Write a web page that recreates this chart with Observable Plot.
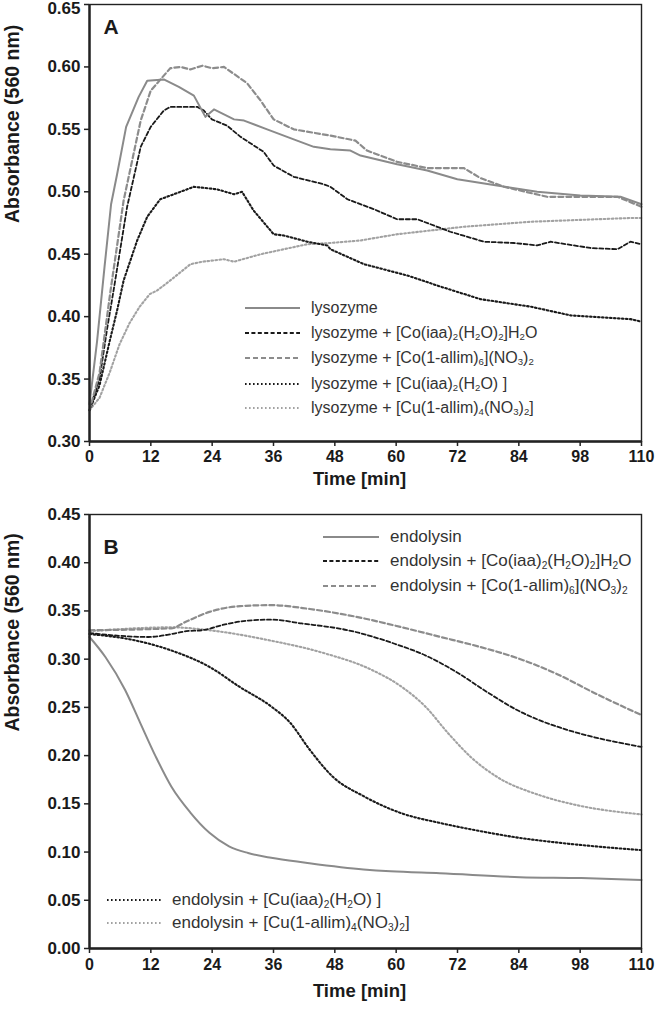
<!DOCTYPE html>
<html>
<head>
<meta charset="utf-8">
<script src="https://cdn.jsdelivr.net/npm/d3@7"></script>
<script src="https://cdn.jsdelivr.net/npm/@observablehq/plot@0.6"></script>
<style>
  body { margin: 0; background: #fff; font-family: "Liberation Sans", Arial, sans-serif; }
  .panel { position: relative; width: 663px; }
  .leg { position: absolute; height: 20px; line-height: 20px; color: #333; white-space: nowrap; display: flex; align-items: center; }
  .leg svg { flex: none; }
  .leg span { margin-left: 11px; }
  sub { font-size: 0.6em; vertical-align: -0.25em; line-height: 0; }
</style>
</head>
<body>
<div id="pA" class="panel" style="height:505px"></div>
<div id="pB" class="panel" style="height:513px"></div>
<script>
// ---------- data ----------
const xTickLabels = ["0", "12", "24", "36", "48", "60", "72", "84", "98", "110"];
const yTicksA = [0.30, 0.35, 0.40, 0.45, 0.50, 0.55, 0.60, 0.65];
const yTicksB = [0.00, 0.05, 0.10, 0.15, 0.20, 0.25, 0.30, 0.35, 0.40, 0.45];

// Panel A (time [min], absorbance)
const lysozyme = [[0,0.330],[1.5,0.380],[3,0.440],[4.3,0.490],[5.5,0.514],[7.3,0.552],[9.8,0.576],[11.5,0.589],[14.8,0.590],[17.8,0.584],[20.8,0.577],[23.1,0.560],[24.8,0.566],[28.8,0.558],[30.8,0.557],[35.4,0.550],[40.7,0.542],[44.7,0.536],[48,0.534],[52,0.533],[54,0.529],[61.3,0.522],[67.3,0.517],[73.3,0.510],[81.2,0.505],[89.2,0.500],[97.8,0.497],[105.8,0.496],[110,0.490]];
const lysCoIaa = [[0,0.325],[2,0.350],[3.5,0.390],[4.8,0.421],[7.5,0.488],[10.2,0.536],[12.2,0.552],[14.8,0.565],[16.1,0.568],[21.5,0.568],[22.8,0.565],[24.4,0.558],[27.4,0.553],[30.1,0.544],[34.7,0.532],[36.7,0.521],[40.7,0.512],[46.7,0.506],[48,0.504],[51.4,0.494],[56.7,0.486],[61.3,0.478],[65.3,0.478],[71.9,0.468],[78.6,0.460],[84.6,0.459],[89.2,0.457],[91.9,0.460],[99.8,0.455],[105.2,0.454],[107.8,0.460],[110,0.458]];
const lysCoAllim = [[0,0.325],[2,0.355],[3,0.385],[4.2,0.421],[6.8,0.493],[10.2,0.557],[12.2,0.581],[16.1,0.599],[18.1,0.600],[20.1,0.598],[22.5,0.601],[24.4,0.599],[26.8,0.600],[31.4,0.587],[34.1,0.573],[36.7,0.558],[40.7,0.550],[48,0.545],[53,0.541],[55.3,0.533],[61.3,0.524],[67.3,0.519],[74.6,0.519],[77.9,0.511],[82.6,0.504],[91.2,0.496],[105.2,0.496],[110,0.488]];
const lysCuIaa = [[0,0.325],[2,0.345],[4,0.380],[5.5,0.405],[6.8,0.429],[9.5,0.461],[11.5,0.480],[14.1,0.494],[16.8,0.498],[20.8,0.504],[25.4,0.502],[28.8,0.498],[30.4,0.500],[32.7,0.485],[36.7,0.466],[38.7,0.465],[43.4,0.460],[47.4,0.457],[48,0.454],[54.7,0.442],[63.3,0.433],[70,0.424],[77.9,0.414],[87.9,0.408],[95.9,0.401],[107.8,0.398],[110,0.396]];
const lysCuAllim = [[0,0.325],[2,0.335],[4,0.355],[6,0.378],[8,0.395],[10,0.408],[12,0.418],[13.5,0.421],[16.1,0.429],[20.1,0.442],[22.5,0.444],[26.8,0.446],[28.8,0.444],[34.1,0.450],[43.4,0.458],[48,0.459],[54,0.461],[61.3,0.466],[74.6,0.472],[87.9,0.476],[107.8,0.479],[110,0.479]];

// Panel B
const endolysin = [[0,0.323],[3.2,0.302],[7.1,0.268],[10.1,0.234],[13.2,0.199],[16.3,0.168],[20.1,0.141],[23.9,0.120],[27.8,0.106],[31.6,0.099],[36.2,0.094],[43.1,0.089],[54.6,0.082],[60,0.080],[69.8,0.078],[85.8,0.074],[98,0.073],[110,0.071]];
const endCoIaa = [[0,0.327],[11.7,0.323],[16.3,0.326],[19.3,0.329],[22.4,0.330],[27,0.336],[31.6,0.340],[36.2,0.341],[42.3,0.337],[51.5,0.330],[60.8,0.316],[66.9,0.304],[73,0.287],[79.2,0.266],[85.3,0.247],[90,0.236],[95,0.227],[100.6,0.219],[105,0.214],[110,0.209]];
const endCoAllim = [[0,0.330],[16.3,0.332],[19.3,0.339],[23.9,0.349],[30,0.355],[36.2,0.356],[43.9,0.352],[53.1,0.344],[62.3,0.333],[70,0.323],[77.6,0.313],[85.3,0.301],[93,0.285],[100.6,0.265],[110,0.242]];
const endCuIaa = [[0,0.326],[8.6,0.320],[16.3,0.309],[23.9,0.292],[30,0.271],[36.2,0.251],[40,0.234],[43.9,0.206],[48.5,0.178],[54.6,0.158],[62.3,0.140],[70,0.130],[77.6,0.122],[85.3,0.115],[93,0.110],[100.6,0.106],[110,0.102]];
const endCuAllim = [[0,0.329],[16.3,0.333],[23.9,0.330],[35.4,0.320],[46.9,0.306],[56.2,0.289],[62.3,0.271],[66.9,0.251],[71.5,0.223],[76.1,0.198],[81.5,0.177],[89.1,0.160],[96.8,0.149],[110,0.139]];

// ---------- styles ----------
const ST = {
  solid:   {stroke: "#8a8a8a", strokeWidth: 2,   dash: null},
  blkDash: {stroke: "#1a1a1a", strokeWidth: 1.8, dash: "4,2.4"},
  gryDash: {stroke: "#8c8c8c", strokeWidth: 2.2, dash: "5,3"},
  blkDot:  {stroke: "#1a1a1a", strokeWidth: 2.1, dash: "1.6,2.4"},
  gryDot:  {stroke: "#a2a2a2", strokeWidth: 2.1, dash: "1.6,2.4"}
};

const xTickVals = xTickLabels.map((_, i) => i * 110 / 9);
const xFmt = d => xTickLabels[Math.round(d * 9 / 110)];
const yFmt = d3.format(".2f");
const FONT = '"Liberation Sans", Arial, sans-serif';

function lineMark(data, st, curve) {
  return Plot.line(data, {x: d => d[0], y: d => d[1], stroke: st.stroke, strokeWidth: st.strokeWidth,
    strokeDasharray: st.dash || undefined, curve, strokeLinejoin: "round"});
}

function panel({height, marginTop, marginBottom, yDomain, yTicks, series, curve, letter, letterDy, xPad, titleDy, topLabelDy}) {
  const yMax = yTicks[yTicks.length - 1];
  return Plot.plot({
    width: 663, height, marginLeft: 89, marginRight: 22, marginTop, marginBottom,
    style: {fontFamily: FONT, fontSize: "16px", fontWeight: "bold", color: "#1a1a1a", background: "#fff"},
    x: {domain: [0, 110]},
    y: {domain: yDomain},
    marks: [
      ...series.map(([d, st]) => lineMark(d, st, curve)),
      Plot.frame({stroke: "#222", strokeWidth: 1.4}),
      Plot.ruleX([0], {stroke: "#222", strokeWidth: 2.4}),
      Plot.ruleY([yDomain[0]], {stroke: "#222", strokeWidth: 2.4}),
      Plot.axisY({ticks: yTicks, tickFormat: d => (Math.abs(d - yMax) < 1e-9 && topLabelDy) ? "" : yFmt(d), tickSize: 5, tickPadding: 4, fontSize: 17, fontWeight: "bold", label: null, stroke: "#222", strokeWidth: 1.5}),
      topLabelDy ? Plot.text([yMax], {x: 0, y: d => d, text: yFmt, textAnchor: "end", dx: -9, dy: topLabelDy, fontSize: 17, fontWeight: "bold"}) : null,
      Plot.axisX({ticks: xTickVals, tickFormat: xFmt, tickSize: 5, tickPadding: xPad, fontSize: 16, fontWeight: "bold", label: null, stroke: "#222", strokeWidth: 1.5}),
      Plot.text([letter], {frameAnchor: "top-left", dx: 14, dy: letterDy, fontSize: 21, fontWeight: "bold", lineAnchor: "top"}),
      Plot.text(["Absorbance (560 nm)"], {frameAnchor: "left", rotate: -90, dx: -77, fontSize: 19.5, fontWeight: "bold"}),
      Plot.text(["Time [min]"], {frameAnchor: "bottom", dy: titleDy, dx: -6, fontSize: 18.5, fontWeight: "bold"})
    ]
  });
}

const plotA = panel({height: 505, marginTop: 4, marginBottom: 64, yDomain: [0.30, 0.65], yTicks: yTicksA,
  series: [[lysCuAllim, ST.gryDot], [lysCuIaa, ST.blkDot], [lysCoIaa, ST.blkDash], [lysCoAllim, ST.gryDash], [lysozyme, ST.solid]],
  curve: "linear", letter: "A", letterDy: 15, xPad: 4, titleDy: 43, topLabelDy: 4});
const plotB = panel({height: 513, marginTop: 9, marginBottom: 70, yDomain: [0, 0.45], yTicks: yTicksB,
  series: [[endCuAllim, ST.gryDot], [endCuIaa, ST.blkDot], [endCoIaa, ST.blkDash], [endCoAllim, ST.gryDash], [endolysin, ST.solid]],
  curve: "monotone-x", letter: "B", letterDy: 25, xPad: 5, titleDy: 48, topLabelDy: 0});

document.getElementById("pA").appendChild(plotA);
document.getElementById("pB").appendChild(plotB);

// ---------- legends ----------
function swatch(st, w) {
  const dash = st.dash ? `stroke-dasharray="${st.dash}"` : "";
  return `<svg width="${w}" height="10"><line x1="0" x2="${w}" y1="5" y2="5" stroke="${st.stroke}" stroke-width="${st.strokeWidth}" ${dash}/></svg>`;
}
function legendRow(parent, x, y, st, w, html, fs) {
  const d = document.createElement("div");
  d.className = "leg";
  d.style.left = x + "px";
  d.style.top = (y - 10) + "px";
  d.style.fontSize = fs + "px";
  d.innerHTML = swatch(st, w) + `<span>${html}</span>`;
  parent.appendChild(d);
}
const legA = [
  [ST.solid,   "lysozyme"],
  [ST.blkDash, "lysozyme + [Co(iaa)<sub>2</sub>(H<sub>2</sub>O)<sub>2</sub>]H<sub>2</sub>O"],
  [ST.gryDash, "lysozyme + [Co(1-allim)<sub>6</sub>](NO<sub>3</sub>)<sub>2</sub>"],
  [ST.blkDot,  "lysozyme + [Cu(iaa)<sub>2</sub>(H<sub>2</sub>O) ]"],
  [ST.gryDot,  "lysozyme + [Cu(1-allim)<sub>4</sub>(NO<sub>3</sub>)<sub>2</sub>]"]
];
const rowsA = [308, 333, 358, 384, 408];
const pA = document.getElementById("pA");
legA.forEach(([st, t], i) => legendRow(pA, 245, rowsA[i], st, 55, t, 16));

const legB1 = [
  [ST.solid,   "endolysin"],
  [ST.blkDash, "endolysin + [Co(iaa)<sub>2</sub>(H<sub>2</sub>O)<sub>2</sub>]H<sub>2</sub>O"],
  [ST.gryDash, "endolysin + [Co(1-allim)<sub>6</sub>](NO<sub>3</sub>)<sub>2</sub>"]
];
const legB2 = [
  [ST.blkDot,  "endolysin + [Cu(iaa)<sub>2</sub>(H<sub>2</sub>O) ]"],
  [ST.gryDot,  "endolysin + [Cu(1-allim)<sub>4</sub>(NO<sub>3</sub>)<sub>2</sub>]"]
];
const pB = document.getElementById("pB");
[537, 561, 586].forEach((y, i) => legendRow(pB, 323, y - 505, legB1[i][0], 56, legB1[i][1], 17));
[900, 923].forEach((y, i) => legendRow(pB, 107, y - 505, legB2[i][0], 54, legB2[i][1], 17));
</script>
</body>
</html>
